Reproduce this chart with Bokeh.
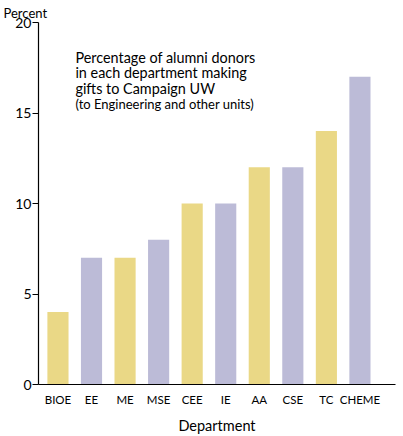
from bokeh.plotting import figure
from bokeh.models import Range1d, Label, FixedTicker, Title
from bokeh.embed import file_html
from bokeh.resources import INLINE

departments = ["BIOE", "EE", "ME", "MSE", "CEE", "IE", "AA", "CSE", "TC", "CHEME"]
percent = [4, 7, 7, 8, 10, 10, 12, 12, 14, 17]
bar_colors = ["#EAD886", "#BCBBD7"]
y_ticks = [0, 5, 10, 15, 20]

xs = list(range(len(departments)))
colors = [bar_colors[i % 2] for i in xs]

p = figure(width=403, height=436, output_backend="svg", toolbar_location=None,
           x_range=Range1d(-0.58, 10.06), y_range=Range1d(0, 20),
           min_border_left=38, min_border_right=8, min_border_top=0, min_border_bottom=51)
p.vbar(x=xs, top=percent, width=0.63, color=colors, line_color=None)

p.xgrid.visible = False
p.ygrid.visible = False
p.outline_line_color = None
p.background_fill_color = "white"

p.xaxis.ticker = FixedTicker(ticks=xs)
p.xaxis.major_label_overrides = {i: d for i, d in zip(xs, departments)}
p.xaxis.major_tick_line_color = None
p.xaxis.minor_tick_line_color = None
p.xaxis.major_tick_out = 0
p.xaxis.major_tick_in = 0
p.xaxis.major_label_standoff = 8
p.xaxis.major_label_text_font = "Lato"
p.xaxis.major_label_text_font_size = "11.5px"
p.xaxis.major_label_text_color = "black"
p.xaxis.axis_label = "Department"
p.xaxis.axis_label_text_font = "Lato"
p.xaxis.axis_label_text_font_style = "normal"
p.xaxis.axis_label_text_font_size = "14.5px"
p.xaxis.axis_label_standoff = 8
p.xaxis.axis_label_text_color = "black"
p.xaxis.axis_line_color = "black"
p.xaxis.axis_line_width = 1.2

p.yaxis.ticker = FixedTicker(ticks=y_ticks)
p.yaxis.minor_tick_line_color = None
p.yaxis.major_tick_in = 0
p.yaxis.major_tick_out = 6
p.yaxis.major_tick_line_color = "black"
p.yaxis.major_label_standoff = 1
p.yaxis.major_label_text_font = "Lato"
p.yaxis.major_label_text_font_size = "14px"
p.yaxis.major_label_text_color = "black"
p.yaxis.axis_line_color = "black"
p.yaxis.axis_line_width = 1.2

p.add_layout(Title(text="Percent", align="left", offset=-35, standoff=4,
                   text_font="Lato", text_font_size="13px", text_font_style="normal",
                   text_color="black"), "above")

lines = ["Percentage of alumni donors", "in each department making", "gifts to Campaign UW"]
ys = [18.07, 17.21, 16.35]
for t, yy in zip(lines, ys):
    p.add_layout(Label(x=0.52, y=yy, text=t, text_font="Lato", text_font_size="14.4px",
                       text_baseline="middle", text_color="black"))
p.add_layout(Label(x=0.52, y=15.5, text="(to Engineering and other units)", text_font="Lato",
                   text_font_size="13px", text_baseline="middle", text_color="black"))

open("out.html", "w").write(file_html(p, INLINE))
